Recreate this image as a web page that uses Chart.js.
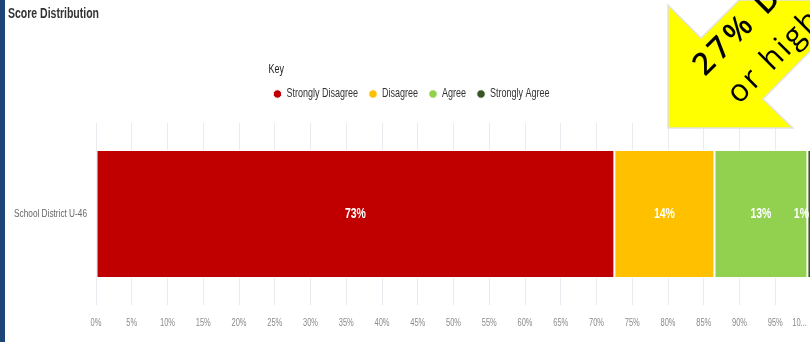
<!DOCTYPE html>
<html lang="en">
<head>
  <meta charset="UTF-8">
  <title>Score Distribution</title>
  <script src="https://cdn.jsdelivr.net/npm/chart.js"></script>
  <style>
    body { margin: 0; width: 810px; height: 342px; overflow: hidden; background: #fff; position: relative; font-family: "Liberation Sans", sans-serif; }
    .strip { position: absolute; left: 0; top: 0; width: 5px; height: 342px; background: #1b4677; }
    .titulo { position: absolute; left: 8px; top: 5px; font-size: 14px; font-weight: bold; color: #333; transform: scaleX(0.75); transform-origin: left top; white-space: nowrap; }
    .caja { position: absolute; left: 5px; top: 0; width: 806px; height: 342px; }
    .flecha { position: absolute; left: 0; top: 0; pointer-events: none; }
  </style>
</head>
<body>
  <div class="strip"></div>
  <div class="caja"><canvas id="grafico"></canvas></div>
  <div class="titulo">Score Distribution</div>
  <svg class="flecha" width="810" height="342">
    <polygon points="668,5 701,38 739,0 861,0 763,99 793,128 668,128" fill="#ffff00" stroke="#e2e2e2" stroke-width="1.5"/>
    <text transform="translate(705,77) rotate(-45)" font-family="Open Sans" font-size="31" font-weight="600" letter-spacing="4" fill="#000">27% Disagree</text>
    <text transform="translate(739,105) rotate(-45)" font-family="Open Sans" font-size="31" letter-spacing="2.5" fill="#000">or higher</text>
  </svg>

  <script>
    const categorias = ['School District U-46'];
    const series = ['Strongly Disagree', 'Disagree', 'Agree', 'Strongly Agree'];
    const valores = [72.5, 14, 13, 0.5];
    const colores = ['#c00000', '#ffc000', '#92d050', '#375623'];
    const fuente = '"Liberation Sans", sans-serif';

    // letra estrecha: el original usa una fuente condensada que no hay aqui
    const lienzo = document.getElementById('grafico');
    const c2d = lienzo.getContext('2d');
    const K = 0.75;
    const fillOrig = c2d.fillText.bind(c2d);
    const medirOrig = c2d.measureText.bind(c2d);
    c2d.fillText = (t, x, y) => {
      c2d.save();
      c2d.translate(x, y);
      c2d.scale(K, 1);
      fillOrig(t, 0, 0);
      c2d.restore();
    };
    c2d.measureText = t => {
      const m = medirOrig(t);
      return { width: m.width * K, actualBoundingBoxAscent: m.actualBoundingBoxAscent, actualBoundingBoxDescent: m.actualBoundingBoxDescent };
    };

    // etiquetas blancas dentro de cada tramo
    const etiquetas = {
      id: 'etiquetas',
      afterDatasetsDraw(chart) {
        const ctx = chart.ctx;
        ctx.save();
        ctx.font = 'bold 14px ' + fuente;
        ctx.fillStyle = '#fff';
        ctx.textAlign = 'center';
        ctx.textBaseline = 'middle';
        chart.data.datasets.forEach((ds, i) => {
          chart.getDatasetMeta(i).data.forEach((bar, j) => {
            const txt = Math.round(ds.data[j]) + '%';
            const w = ctx.measureText(txt).width;
            let x = (bar.x + bar.base) / 2;
            x = Math.min(x, 804 - w / 2);
            ctx.fillText(txt, x, bar.y);
          });
        });
        ctx.restore();
      }
    };

    // mas hueco entre la leyenda y las barras
    const margenLeyenda = {
      id: 'margenLeyenda',
      beforeInit(chart) {
        const fit = chart.legend.fit;
        chart.legend.fit = function () {
          fit.bind(chart.legend)();
          this.height += 13;
        };
      }
    };

    new Chart(lienzo, {
      type: 'bar',
      data: {
        labels: categorias,
        datasets: series.map((s, i) => ({
          label: s,
          data: [valores[i]],
          backgroundColor: colores[i],
          borderColor: '#fff',
          borderWidth: 1,
          borderSkipped: false,
          categoryPercentage: 0.703,
          barPercentage: 1
        }))
      },
      options: {
        indexAxis: 'y',
        responsive: true,
        maintainAspectRatio: false,
        animation: false,
        layout: { padding: { top: 64, left: 8, right: 0, bottom: 0 } },
        plugins: {
          tooltip: { enabled: false },
          legend: {
            position: 'top',
            title: { display: true, text: 'Key', position: 'start', color: '#222', font: { family: fuente, size: 12, lineHeight: 1 }, padding: 0 },
            labels: { usePointStyle: true, pointStyle: 'circle', boxWidth: 6, boxHeight: 6, padding: 12, color: '#333', font: { family: fuente, size: 12 } }
          }
        },
        scales: {
          x: {
            stacked: true,
            min: 0, max: 100,
            grid: { color: '#e8ecf0', drawTicks: false },
            border: { display: false },
            ticks: { stepSize: 5, padding: 12.5, color: '#8a8a8a', maxRotation: 0, autoSkip: false, font: { family: fuente, size: 10 },
              callback: v => v === 100 ? '10...' + ' '.repeat(11) : v + '%' },
            // el eje llega hasta el borde, como en el original
            afterFit: s => { s.paddingLeft = 0; s.paddingRight = 0; }
          },
          y: {
            stacked: true,
            grid: { display: false, drawTicks: false },
            border: { display: false },
            ticks: { padding: 9, color: '#666', font: { family: fuente, size: 11 } },
            afterFit: s => { s.width = 83; }
          }
        }
      },
      plugins: [etiquetas, margenLeyenda]
    });
  </script>
</body>
</html>
